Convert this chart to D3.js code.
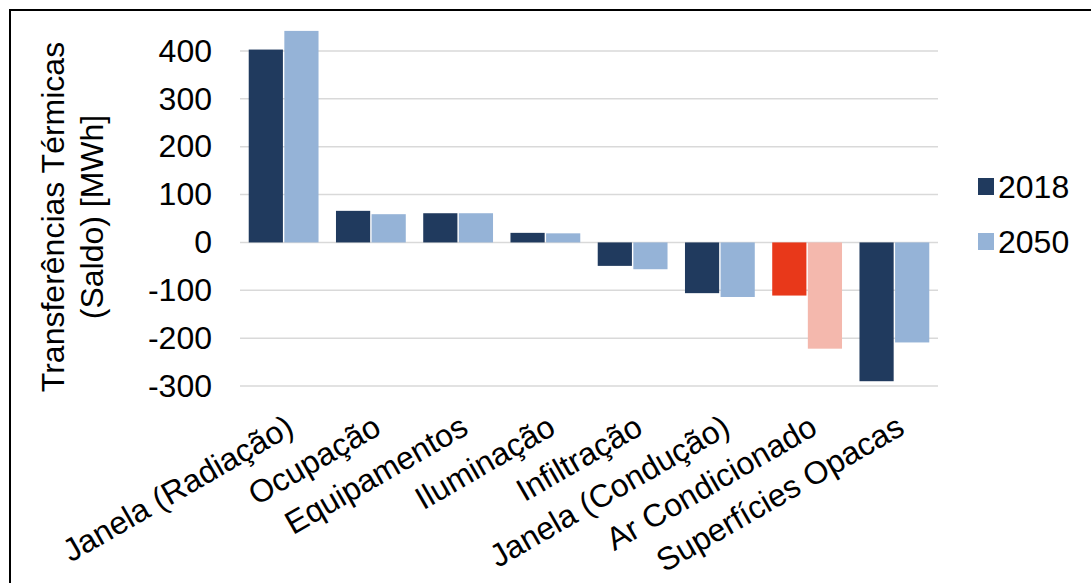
<!DOCTYPE html>
<html>
<head>
<meta charset="utf-8">
<script src="https://cdn.jsdelivr.net/npm/d3@7"></script>
<style>
  html, body { margin: 0; padding: 0; background: #fff; }
  svg { display: block; font-family: "Liberation Sans", Arial, sans-serif; }
</style>
</head>
<body>
<svg id="chart" width="1091" height="583"></svg>
<script>
// Thermal transfer balance per component, MWh
const categories = ["Janela (Radiação)", "Ocupação", "Equipamentos", "Iluminação",
  "Infiltração", "Janela (Condução)", "Ar Condicionado", "Superfícies Opacas"];
const series = ["2018", "2050"];
const values2018 = [403, 66, 61, 20, -49, -106, -111, -290];
const values2050 = [442, 59, 61, 19, -56, -114, -222, -209];
const yTicks = [-300, -200, -100, 0, 100, 200, 300, 400];
const yTitle = ["Transferências Térmicas", "(Saldo) [MWh]"];

const colors = { "2018": "#203A5E", "2050": "#95B3D7" };
// The air-conditioning pair is highlighted in warm tones
const highlight = { "2018": "#E8381A", "2050": "#F4B8AD" };

const FONT = 32;
const svg = d3.select("#chart");

// Outer frame (only top and left edges fall inside the view)
svg.append("rect")
  .attr("x", 10).attr("y", 10)
  .attr("width", 1200).attr("height", 700)
  .attr("fill", "none").attr("stroke", "#000").attr("stroke-width", 2);

const plot = { left: 240, right: 938, top: 51, bottom: 386 };

const y = d3.scaleLinear().domain([-300, 400]).range([plot.bottom, plot.top]);
const x0 = d3.scaleBand().domain(categories).range([plot.left, plot.right]).paddingInner(0.2).paddingOuter(0.1);
const x1 = d3.scaleBand().domain(series).range([0, x0.bandwidth()]).paddingInner(0.04);

// Gridlines
svg.append("g")
  .selectAll("line").data(yTicks).join("line")
  .attr("x1", plot.left).attr("x2", plot.right)
  .attr("y1", d => y(d)).attr("y2", d => y(d))
  .attr("stroke", "#D9D9D9").attr("stroke-width", 1.5);

// Y tick labels
const yAxis = d3.axisLeft(y).tickValues(yTicks).tickSize(0).tickPadding(0)
  .tickFormat(d => String(d));
const yg = svg.append("g").attr("transform", `translate(212,0)`).call(yAxis);
yg.select(".domain").remove();
yg.selectAll("text").attr("font-size", FONT).attr("fill", "#000")
  .attr("font-family", "Liberation Sans, Arial, sans-serif");

// Bars
const rows = categories.map((c, i) => ({ cat: c, i, v: { "2018": values2018[i], "2050": values2050[i] } }));
const groups = svg.append("g").selectAll("g").data(rows).join("g")
  .attr("transform", d => `translate(${x0(d.cat)},0)`);
groups.selectAll("rect")
  .data(d => series.map(s => ({ s, v: d.v[s], hot: d.cat === "Ar Condicionado" })))
  .join("rect")
  .attr("x", d => x1(d.s))
  .attr("width", x1.bandwidth())
  .attr("y", d => y(Math.max(0, d.v)))
  .attr("height", d => Math.abs(y(d.v) - y(0)))
  .attr("fill", d => d.hot ? highlight[d.s] : colors[d.s]);

// Category labels, rotated
svg.append("g").selectAll("text").data(categories).join("text")
  .attr("transform", d => `translate(${x0(d) + x0.bandwidth() / 2 + 12},${433}) rotate(-30)`)
  .attr("text-anchor", "end")
  .attr("font-size", FONT)
  .attr("fill", "#000")
  .text(d => d);

// Y title
const yt = svg.append("text")
  .attr("transform", `translate(64,217) rotate(-90)`)
  .attr("text-anchor", "middle")
  .attr("font-size", FONT)
  .attr("fill", "#000");
yt.selectAll("tspan").data(yTitle).join("tspan")
  .attr("x", 0).attr("dy", (d, i) => i === 0 ? 0 : 39)
  .text(d => d);

// Legend
const lg = svg.append("g").selectAll("g").data(series).join("g")
  .attr("transform", (d, i) => `translate(978,${178 + i * 55})`);
lg.append("rect").attr("width", 16).attr("height", 17).attr("fill", d => colors[d]);
lg.append("text").attr("x", 20).attr("y", 20).attr("font-size", FONT).attr("fill", "#000").text(d => d);
</script>
</body>
</html>
